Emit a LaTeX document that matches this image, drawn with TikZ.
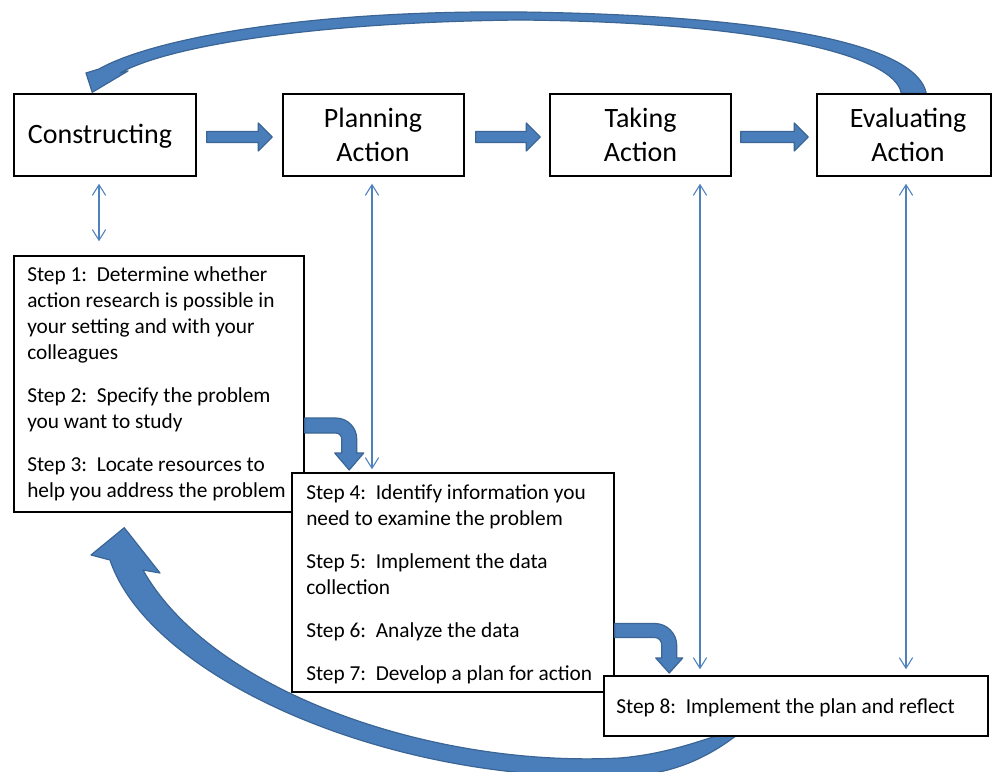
\documentclass[tikz,border=0pt]{standalone}
\usepackage{fontspec}
\setmainfont{Carlito}
\usetikzlibrary{calc,arrows.meta,backgrounds}
\newdimen\pxu \pxu=0.75pt
\definecolor{arrowblue}{HTML}{4A7EBB}
\definecolor{arrowedge}{HTML}{3A6595}
\definecolor{linkblue}{HTML}{4F81BD}
% straight block arrow between two named coordinates
\newcommand\stagearrow[2]{%
  \draw[fat] ($(#1)+(0,-5.5)$) -- ($(#2)+(-14,-5.5)$) -- ($(#2)+(-14,-14)$) -- (#2)
    -- ($(#2)+(-14,14)$) -- ($(#2)+(-14,5.5)$) -- ($(#1)+(0,5.5)$) -- cycle;}
\begin{document}
\begin{tikzpicture}[x=0.75pt,y=-0.75pt,
  box/.style={draw=black,line width=1.1pt,fill=white,rectangle,inner sep=0pt},
  stage/.style={font=\fontsize{21}{25.5}\selectfont,align=center,inner sep=0pt},
  steptext/.style={font=\fontsize{16}{19.5}\selectfont,align=left,anchor=north west,inner sep=0pt},
  fat/.style={fill=arrowblue,draw=arrowedge,line width=0.9pt,line join=round},
  link/.style={draw=linkblue,line width=0.8pt,
    arrows={Straight Barb[length=8pt,width=10pt]-Straight Barb[length=8pt,width=10pt]}}
]
\begin{scope}[on background layer]
  \fill[white] (0,0) rectangle (992,771);
\end{scope}
\useasboundingbox (0,0) rectangle (992,771);

% the four stages
\node[box,minimum width=182\pxu,minimum height=82\pxu] (c) at (105,135) {};
\node[stage] (ctxt) at (100,136.5) {Constructing};
\node[box,minimum width=181\pxu,minimum height=82\pxu] (p) at (373.5,135) {};
\node[stage] (ptxt) at (373,135) {Planning\\Action};
\node[box,minimum width=181\pxu,minimum height=82\pxu] (t) at (640.5,135) {};
\node[stage] (ttxt) at (640.5,135) {Taking\\Action};
\node[box,minimum width=174\pxu,minimum height=82\pxu] (e) at (904,135) {};
\node[stage] (etxt) at (908,135) {Evaluating\\Action};

% arrows from stage to stage
\coordinate (a1s) at ($(c.east)+(10,2)$);
\coordinate (a1e) at ($(p.west)+(-10,2)$);
\coordinate (a2s) at ($(p.east)+(11,2)$);
\coordinate (a2e) at ($(t.west)+(-9,2)$);
\coordinate (a3s) at ($(t.east)+(9,2)$);
\coordinate (a3e) at ($(e.west)+(-8,2)$);
\stagearrow{a1s}{a1e}
\stagearrow{a2s}{a2e}
\stagearrow{a3s}{a3e}

% steps 1-3
\node[box,minimum width=290\pxu,minimum height=256\pxu] (s1) at (159,384) {};
\node[steptext] (s1txt) at (27,266) {Step 1:\ \ Determine whether\\
action research is possible in\\
your setting and with your\\
colleagues\\[12.75pt]
Step 2:\ \ Specify the problem\\
you want to study\\[12.75pt]
Step 3:\ \ Locate resources to\\
help you address the problem};

% bent arrow from steps 1-3 down to steps 4-7
\begin{scope}[shift={(s1.east)}]
  \draw[fat] (0,34) -- (31,34) .. controls (42.6,34) and (52,43.4) .. (52,55) -- (52,69)
    -- (59,69) -- (44.5,86) -- (30,69) -- (37,69) -- (37,55)
    .. controls (37,51.7) and (34.3,49) .. (31,49) -- (0,49) -- cycle;
\end{scope}

% steps 4-7
\node[box,minimum width=322\pxu,minimum height=219\pxu] (s4) at (453,582.5) {};
\node[steptext] (s4txt) at (306,484) {Step 4:\ \ Identify information you\\
need to examine the problem\\[12.75pt]
Step 5:\ \ Implement the data\\
collection\\[12.75pt]
Step 6:\ \ Analyze the data\\[12.75pt]
Step 7:\ \ Develop a plan for action};

% bent arrow from steps 4-7 down to step 8
\begin{scope}[shift={(s4.east)}]
  \draw[fat] (0,41) -- (40,41) .. controls (52.1,41) and (62,50.9) .. (62,63) -- (62,75.5)
    -- (68,75.5) -- (54.5,90.5) -- (41,75.5) -- (47,75.5) -- (47,63)
    .. controls (47,58.6) and (44.4,55) .. (40,55) -- (0,55) -- cycle;
\end{scope}

% step 8
\node[box,minimum width=384\pxu,minimum height=60\pxu] (s8) at (796,706) {};
\node[steptext] (s8txt) at (616,698) {Step 8:\ \ Implement the plan and reflect};

% curved return arrows behind the boxes
\begin{scope}[on background layer]
  % from evaluating back over the top to constructing
  \draw[fat] ($(e.north west)+(110,0)$) .. controls (915,40) and (750,15) .. (520,12)
    .. controls (300,10) and (150,40) .. (99,69) -- (86,73) -- ($(c.north west)+(79,-1)$)
    -- (128,71) -- (120,73) .. controls (170,45) and (320,22) .. (520,20)
    .. controls (760,22) and (895,55) .. ($(e.north west)+(85,0)$) -- cycle;
  % from step 8 round the bottom back to steps 1-3
  \draw[fat] ($(s8.south)+(-46,-6)$) .. controls (730,725) and (690,752) .. (620,758)
    .. controls (430,768) and (210,690) .. (143,570) -- (160,573)
    -- ($(s1.south west)+(111,15)$) -- (91,555) -- (110,560)
    .. controls (150,680) and (400,790) .. (640,775)
    .. controls (690,770) and (730,745) .. ($(s8.south)+(-34,-24)$) -- cycle;
\end{scope}

% links between each stage and its steps
\coordinate (xc) at (99,0);
\coordinate (xp) at (372,0);
\coordinate (xt) at (700,0);
\coordinate (xe) at (906,0);
\draw[link] ($(c.south -| xc)+(0,7)$) -- ($(s1.north -| xc)+(0,-14)$);
\draw[link] ($(p.south -| xp)+(0,7)$) -- ($(s4.north -| xp)+(0,-3)$);
\draw[link] ($(t.south -| xt)+(0,7)$) -- ($(s8.north -| xt)+(0,-6)$);
\draw[link] ($(e.south -| xe)+(0,7)$) -- ($(s8.north -| xe)+(0,-6)$);
\end{tikzpicture}
\end{document}
